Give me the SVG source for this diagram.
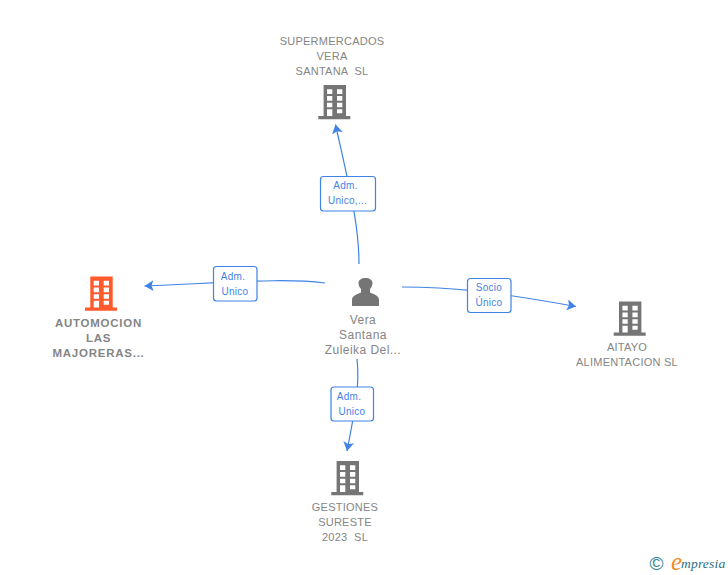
<svg xmlns="http://www.w3.org/2000/svg" width="728" height="575" viewBox="0 0 728 575">
<style>
text{font-family:"Liberation Sans",Arial,sans-serif;white-space:pre}
.n{font-size:11px;fill:#858585;text-anchor:middle;letter-spacing:.25px}
.b{font-weight:700;font-size:11.5px;letter-spacing:.75px}
.p{font-size:12px;letter-spacing:.45px}
.l{font-size:10px;fill:#3f83e4;text-anchor:middle;letter-spacing:.25px}
.box{fill:#fff;stroke:#3f83e4;stroke-width:1.2}
.c{fill:none;stroke:#3f83e4;stroke-width:1.2;marker-end:url(#a)}
</style>
<defs>
<marker id="a" markerUnits="userSpaceOnUse" markerWidth="12" markerHeight="12" refX="9" refY="5.5" orient="auto"><path d="M0 0L9 5.500L0 11L2 5.500Z" fill="#3f83e4"/></marker>
<path id="bld" fill-rule="evenodd" d="M5.300 0H27.700V31H32V34.300H0V31H5.300ZM8.700 4.300V9H14V4.300ZM18.700 4.300V9H24V4.300ZM8.700 11V15.700H14V11ZM18.700 11V15.700H24V11ZM8.700 17.700V22.300H14V17.700ZM18.700 17.700V22.300H24V17.700ZM8.700 24.300V31H14V24.300ZM18.700 24.300V28.300H24V24.300Z"/>
</defs>
<rect width="728" height="575" fill="#fff"/>
<g id="connectors">
<path class="c" d="M359 264C359 225 350 190 335.500 124.500"/>
<path class="c" d="M325 283C285 278 240 282 144.500 286"/>
<path class="c" d="M402 287C450 287 490 291 576 306.500"/>
<path class="c" d="M357 359C360 385 355 410 347 451"/>
</g>
<g id="label-top"><rect class="box" x="320.500" y="176.500" width="55" height="34.500" rx="3"/><text class="l" x="345.500" y="189">Adm.</text><text class="l" x="347.500" y="204">Unico,...</text></g>
<g id="label-left"><rect class="box" x="213.500" y="266.500" width="43.500" height="34.500" rx="3"/><text class="l" x="233" y="280">Adm.</text><text class="l" x="235" y="295">Unico</text></g>
<g id="label-right"><rect class="box" x="467.500" y="278.500" width="43.500" height="34" rx="3"/><text class="l" x="489" y="291">Socio</text><text class="l" x="489" y="306">Único</text></g>
<g id="label-bottom"><rect class="box" x="331" y="387" width="42.500" height="34" rx="3"/><text class="l" x="349" y="400">Adm.</text><text class="l" x="352" y="415">Unico</text></g>
<g id="node-supermercados"><use href="#bld" x="318.300" y="85" fill="#757575"/><text class="n" x="332" y="45">SUPERMERCADOS</text><text class="n" x="332" y="60">VERA</text><text class="n" x="332" y="75">SANTANA  SL</text></g>
<g id="node-automocion"><use href="#bld" x="85" y="276.500" fill="#ff5a2c"/><text class="n b" x="98.500" y="327">AUTOMOCION</text><text class="n b" x="98.500" y="342">LAS</text><text class="n b" x="98.500" y="357">MAJORERAS...</text></g>
<g id="node-vera"><path fill="#757575" d="M352 306V300C352 296 356 294.500 361 292.500V289C359 287 358.500 284.500 358.500 283C358.500 280 361.500 278 365.500 278C369.500 278 372.500 280 372.500 283C372.500 284.500 372 287 370 289V292.500C375 294.500 379 296 379 300V306Z"/><text class="n p" x="363" y="324">Vera</text><text class="n p" x="363" y="339">Santana</text><text class="n p" x="363" y="354">Zuleika Del...</text></g>
<g id="node-aitayo"><use href="#bld" x="613.700" y="301.500" fill="#757575"/><text class="n" x="627" y="351">AITAYO</text><text class="n" x="627" y="366">ALIMENTACION SL</text></g>
<g id="node-gestiones"><use href="#bld" x="331.300" y="461" fill="#757575"/><text class="n" x="345" y="511">GESTIONES</text><text class="n" x="345" y="526">SURESTE</text><text class="n" x="345" y="541">2023  SL</text></g>
<g id="logo"><text x="649.500" y="570" font-size="19" fill="#2f7f93">©</text><text x="671" y="570" font-size="25" font-style="italic" fill="#f58a1f" style="font-family:'Liberation Serif',serif">e</text><text x="681" y="568" font-size="13.500" font-style="italic" fill="#1f6f86" style="font-family:'Liberation Serif',serif;letter-spacing:.2px">mpresia</text></g>
</svg>
